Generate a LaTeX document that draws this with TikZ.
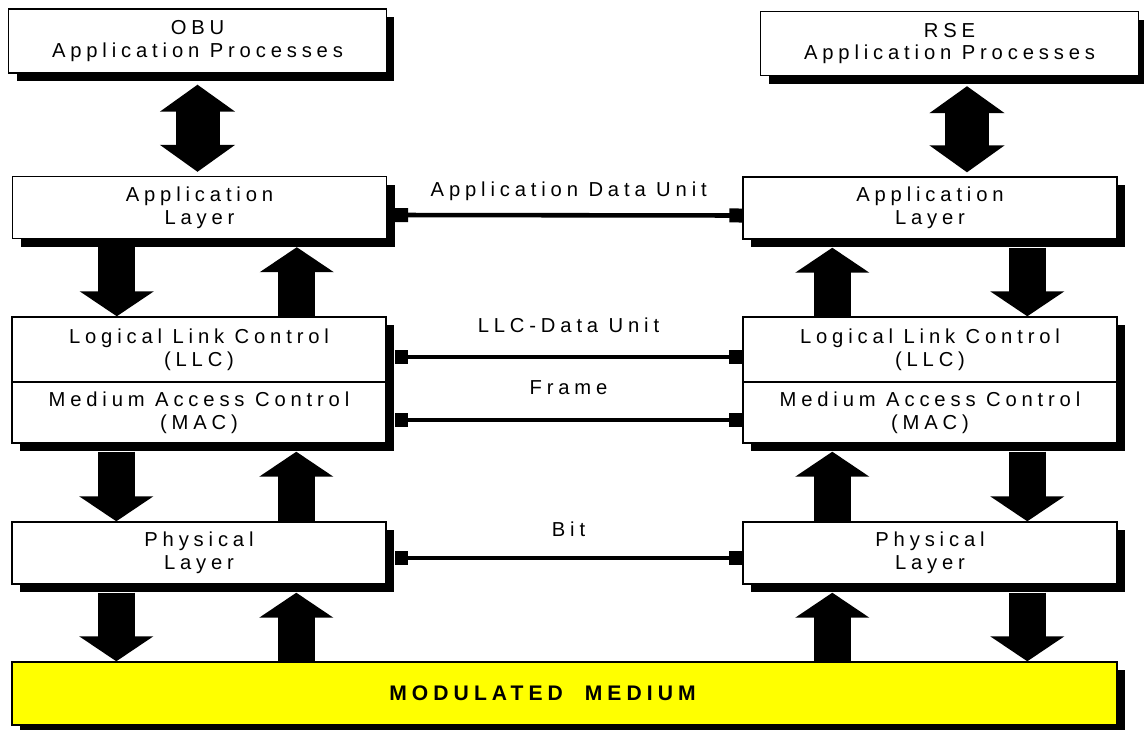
\documentclass[tikz,border=0pt]{standalone}
\usepackage{fontspec}
\setmainfont{Liberation Sans}[LetterSpace=24]
\usetikzlibrary{positioning, arrows.meta, shadows}
\colorlet{rule}{black}
\definecolor{medium}{RGB}{255,255,0}
\tikzset{
  layer/.style    ={draw=rule, fill=white, line width=0.8pt, align=center,
                    minimum width=7.48cm, minimum height=1.24cm, inner sep=0pt,
                    font=\fontsize{11.5}{13}\selectfont,
                    drop shadow={shadow xshift=0.16cm, shadow yshift=-0.16cm,
                                 fill=black, opacity=1}},
  process/.style  ={layer, minimum width=7.55cm, minimum height=1.28cm},
  mediumbox/.style={layer, fill=medium, minimum width=22.1cm,
                    minimum height=1.26cm,
                    font=\fontsize{12}{14}\selectfont\bfseries},
  pdu/.style      ={{Square[length=0.26cm,width=0.28cm]}-{Square[length=0.26cm,width=0.28cm]},
                    line width=2.6pt},
  pdulabel/.style ={font=\fontsize{11.5}{13}\selectfont, midway},
  flow/.style     ={-{Triangle[width=1.46cm,length=0.5cm]}, line width=0.74cm},
  twoway/.style   ={{Triangle[width=1.48cm,length=0.54cm]}-{Triangle[width=1.48cm,length=0.54cm]},
                    line width=0.88cm},
}

\begin{document}
\begin{tikzpicture}
\useasboundingbox (0,0) rectangle (22.88,-14.6);

% OBU side
\node[process] (OBU)  at (3.95,-0.82)  {OBU\\Application Processes};
\node[layer]   (AppL) at (3.99,-4.15)  {Application\\Layer};
\node[layer, minimum height=1.30cm] (LLCl) at (3.98,-6.99)
  {Logical Link Control\\(LLC)};
\node[layer, minimum height=1.22cm] (MACl) at (3.98,-8.25)
  {Medium Access Control\\(MAC)};
\node[layer]   (PhyL) at (3.98,-11.06) {Physical\\Layer};

% RSE side
\node[process] (RSE)  at (18.99,-0.87) {RSE\\Application Processes};
\node[layer]   (AppR) at (18.6,-4.16)  {Application\\Layer};
\node[layer, minimum height=1.30cm] (LLCr) at (18.6,-6.99)
  {Logical Link Control\\(LLC)};
\node[layer, minimum height=1.22cm] (MACr) at (18.6,-8.25)
  {Medium Access Control\\(MAC)};
\node[layer]   (PhyR) at (18.6,-11.06) {Physical\\Layer};

\node[mediumbox] (Medium) at (11.29,-13.87)
  {MODULATED\ \ MEDIUM\hspace*{0.88cm}};

% service access between processes and application layer
\draw[twoway] ([yshift=-0.22cm]OBU.south)
  -- ([yshift=0.08cm]OBU.south |- AppL.north);
\draw[twoway] ([xshift=0.35cm,yshift=-0.2cm]RSE.south)
  -- ([xshift=0.35cm,yshift=0.08cm]RSE.south |- AppR.north);

% vertical flows, left stack then right stack
\foreach \upper/\lower in {AppL/LLCl, MACl/PhyL, PhyL/Medium} {
  \draw[flow] ([xshift=2.1cm,yshift=-0.16cm]\upper.south west)
    -- ([xshift=2.1cm]\upper.south west |- \lower.north);
  \draw[flow] ([xshift=5.7cm]\upper.south west |- \lower.north)
    -- ([xshift=5.7cm,yshift=-0.16cm]\upper.south west);
}
\foreach \upper/\lower in {AppR/LLCr, MACr/PhyR, PhyR/Medium} {
  \draw[flow] ([xshift=1.8cm]\upper.south west |- \lower.north)
    -- ([xshift=1.8cm,yshift=-0.16cm]\upper.south west);
  \draw[flow] ([xshift=5.7cm,yshift=-0.16cm]\upper.south west)
    -- ([xshift=5.7cm]\upper.south west |- \lower.north);
}

% peer protocol units
\draw[pdu] ([xshift=0.16cm,yshift=-0.15cm]AppL.east) -- ([yshift=-0.15cm]AppR.west)
  node[pdulabel, yshift=0.48cm] (ADU) {Application Data Unit};
\draw[pdu] ([xshift=0.16cm,yshift=-0.15cm]LLCl.east) -- ([yshift=-0.15cm]LLCr.west)
  node[pdulabel, yshift=0.64cm] (LDU) {LLC-Data Unit};
\draw[pdu] ([xshift=0.16cm,yshift=-0.15cm]MACl.east) -- ([yshift=-0.15cm]MACr.west)
  node[pdulabel, yshift=0.64cm] (FRM) {Frame};
\draw[pdu] ([xshift=0.16cm,yshift=-0.1cm]PhyL.east) -- ([yshift=-0.1cm]PhyR.west)
  node[pdulabel, yshift=0.58cm] (BIT) {Bit};

\end{tikzpicture}
\end{document}
